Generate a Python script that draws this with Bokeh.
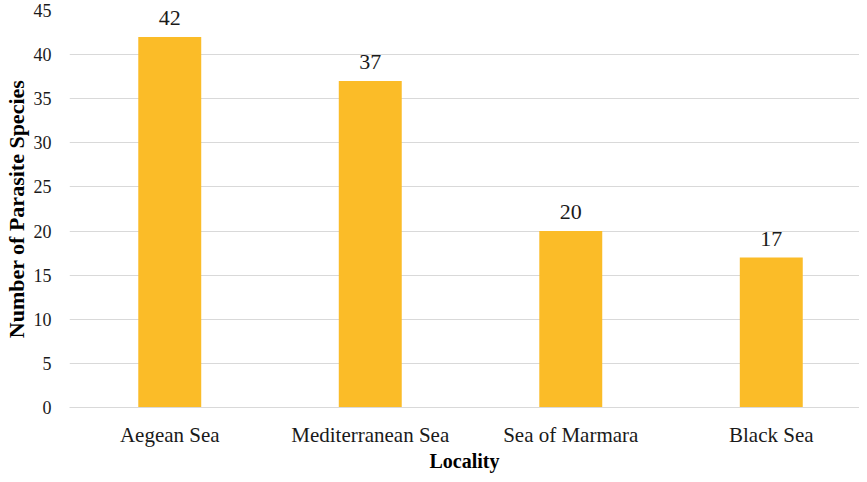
from bokeh.plotting import figure
from bokeh.models import ColumnDataSource, Range1d, FixedTicker
from bokeh.core.properties import value
from bokeh.embed import file_html
from bokeh.resources import INLINE

categories = ["Aegean Sea", "Mediterranean Sea", "Sea of Marmara", "Black Sea"]
counts = [42, 37, 20, 17]
y_ticks = [0, 5, 10, 15, 20, 25, 30, 35, 40, 45]

xpos = [i + 0.5 for i in range(len(categories))]
src = ColumnDataSource(dict(x=xpos, top=counts, label=[str(c) for c in counts]))

p = figure(width=859, height=474, output_backend="svg", toolbar_location=None,
           x_range=Range1d(0, 3.94), y_range=Range1d(0, 45),
           min_border_left=68, min_border_right=0, min_border_top=10, min_border_bottom=64)
p.outline_line_color = None
p.background_fill_color = "white"

p.vbar(x="x", top="top", width=0.314, bottom=0, source=src,
       fill_color="#FBBC28", line_color=None)

p.text(x="x", y="top", text="label", source=src, text_align="center",
       text_baseline="bottom", y_offset=-12, text_font=value("Liberation Serif"),
       text_font_size="22px", text_color="#1a1a1a")

font = "Liberation Serif"
# x axis
p.xaxis.ticker = FixedTicker(ticks=xpos)
p.xaxis.major_label_overrides = {x: c for x, c in zip(xpos, categories)}
p.xaxis.axis_line_color = "#D9D9D9"
p.xaxis.major_tick_line_color = None
p.xaxis.minor_tick_line_color = None
p.xaxis.major_label_standoff = 9
p.xaxis.major_label_text_font = font
p.xaxis.major_label_text_font_size = "21px"
p.xaxis.major_label_text_color = "#1a1a1a"
p.xaxis.axis_label = "Locality"
p.xaxis.axis_label_text_font = font
p.xaxis.axis_label_text_font_style = "bold"
p.xaxis.axis_label_text_font_size = "20px"
p.xaxis.axis_label_text_color = "#000000"
p.xaxis.axis_label_standoff = 0

# y axis
p.yaxis.ticker = FixedTicker(ticks=y_ticks)
p.yaxis.axis_line_color = None
p.yaxis.major_tick_line_color = None
p.yaxis.minor_tick_line_color = None
p.yaxis.major_label_standoff = 12
p.yaxis.major_label_text_font = font
p.yaxis.major_label_text_font_size = "18px"
p.yaxis.major_label_text_color = "#1a1a1a"
p.yaxis.axis_label = "Number of Parasite Species"
p.yaxis.axis_label_text_font = font
p.yaxis.axis_label_text_font_style = "bold"
p.yaxis.axis_label_text_font_size = "22px"
p.yaxis.axis_label_text_color = "#000000"
p.yaxis.axis_label_standoff = 2

p.xgrid.grid_line_color = None
p.ygrid.grid_line_color = "#D9D9D9"
p.ygrid.grid_line_width = 1

open("out.html", "w").write(file_html(p, INLINE))
